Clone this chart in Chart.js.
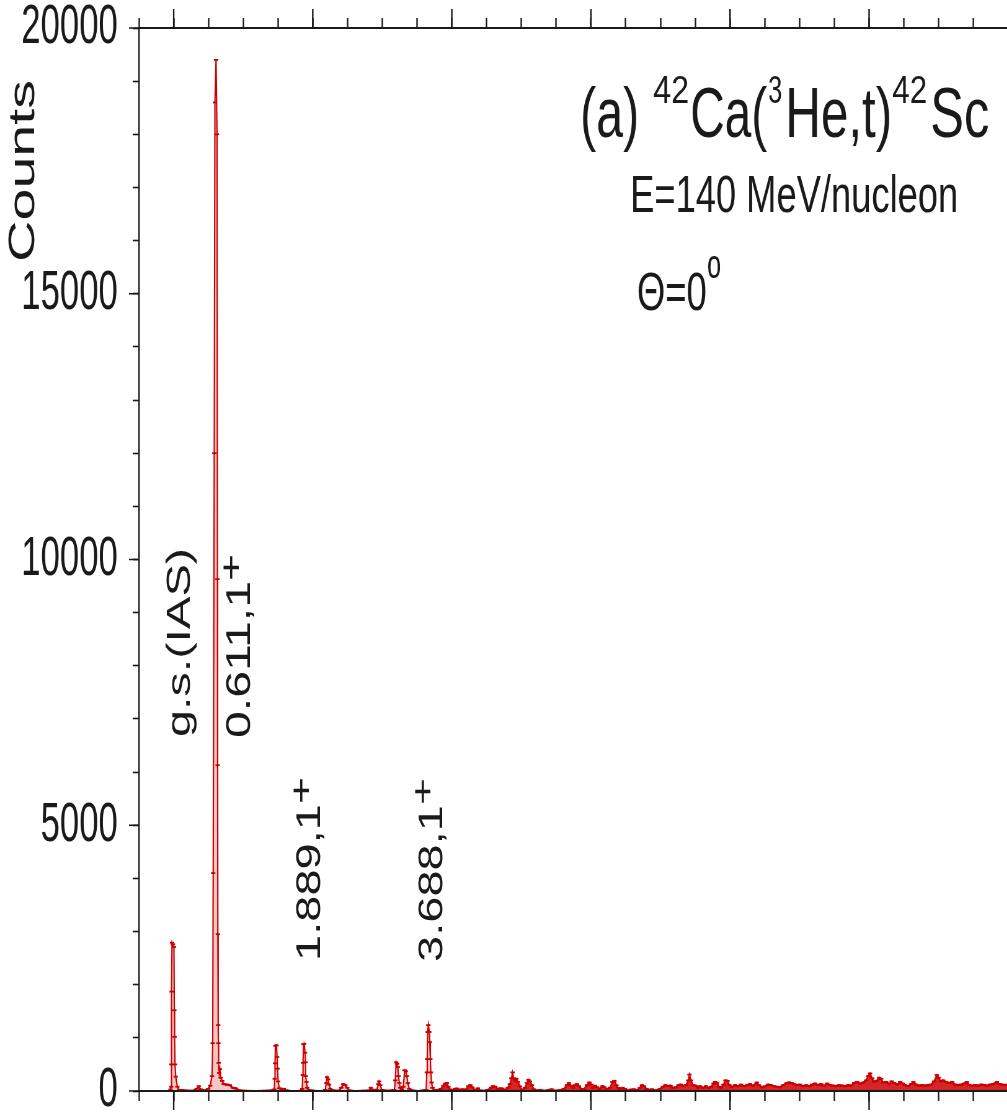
<!DOCTYPE html>
<html>
<head>
<meta charset="utf-8">
<title>42Ca(3He,t)42Sc spectrum</title>
<script src="https://cdn.jsdelivr.net/npm/chart.js"></script>
<style>
    html, body { margin: 0; padding: 0; background: #fff; overflow: hidden; }
</style>
</head>
<body>
<canvas id="chart" width="1640" height="1119"></canvas>
<script>
    // The canvas is drawn wide and shown narrowed, so the whole figure
    // (lines and lettering alike) comes out horizontally condensed.
    var SQUEEZE = 0.62;
    var CANVAS_W = 1640, CANVAS_H = 1119;
    var RED = '#cc0000';
    var INK = '#1a1a1a';
    var FONT = "'Liberation Sans', Arial, Helvetica, sans-serif";

    // axes
    var energyMin = -0.5, energyMax = 12.02, energyMinorStep = 0.5;
    var energyMajorTicks = [0, 2, 4, 6, 8, 10, 12];
    var countsMax = 20000, countsMinorStep = 1000;
    var countsMajorTicks = [0, 5000, 10000, 15000, 20000];

    // excitation energy (MeV) and counts: discrete states up to ~3.7 MeV
    var peakRegionMeV = [
        -0.065, -0.046, -0.036, -0.033, -0.030, -0.024, -0.010, 0.004, 0.009, 0.014, 0.019, 0.029, 0.053, 0.079,
        0.158, 0.273, 0.331, 0.360, 0.388, 0.446, 0.496, 0.525, 0.551,
        0.561, 0.568, 0.583, 0.593, 0.609, 0.623, 0.629, 0.632, 0.635, 0.640, 0.643, 0.647, 0.655, 0.665, 0.676, 0.698, 0.719, 0.763, 0.806, 0.849, 0.892, 0.950,
        1.022, 1.165, 1.309, 1.410,
        1.446, 1.453, 1.457, 1.463, 1.478, 1.487, 1.493, 1.502, 1.518, 1.554, 1.583, 1.612, 1.698, 1.813,
        1.849, 1.856, 1.860, 1.866, 1.878, 1.889, 1.895, 1.899, 1.909, 1.921, 1.942,
        2.029, 2.129, 2.180, 2.194, 2.206, 2.220, 2.235, 2.252, 2.288,
        2.374, 2.410, 2.439, 2.468, 2.496, 2.518, 2.604, 2.719,
        2.813, 2.835, 2.856, 2.921, 2.942, 2.954, 2.971, 2.993, 3.079,
        3.173, 3.187, 3.199, 3.213, 3.223, 3.233, 3.245, 3.259, 3.281, 3.302, 3.321, 3.338, 3.353, 3.367, 3.388, 3.424, 3.511, 3.597,
        3.630, 3.640, 3.646, 3.652, 3.662, 3.676, 3.683, 3.691, 3.698, 3.709, 3.722, 3.748
    ];
    var peakRegionCounts = [
        0, 30, 80, 500, 1870, 2790, 2760, 2710, 1520, 1020, 500, 270, 80, 20,
        10, 5, 40, 90, 30, 10, 40, 100, 280,
        900, 4100, 12000, 18600, 19400, 18000, 9630, 6130, 2950, 1240, 900, 530, 340, 410, 250, 190, 130, 120, 110, 60, 50, 10,
        5, 0, 5, 10,
        30, 230, 520, 850, 860, 640, 420, 180, 50, 40, 40, 10, 0, 5,
        40, 300, 530, 880, 890, 720, 540, 280, 170, 60, 20,
        5, 0, 20, 150, 260, 220, 120, 40, 10,
        5, 60, 130, 110, 60, 10, 0, 5,
        10, 60, 20, 20, 130, 180, 110, 20, 5,
        20, 200, 540, 510, 450, 280, 150, 60, 30, 80, 390, 370, 280, 150, 40, 10, 0, 10,
        20, 350, 600, 1110, 1240, 1110, 920, 600, 350, 160, 60, 10
    ];

    // continuum above ~3.7 MeV
    var continuumMeV = [
        3.748, 3.799, 3.842, 3.878, 3.906, 3.928, 3.950, 3.971, 4.000, 4.043, 4.072, 4.115,
        4.144, 4.201, 4.237, 4.266, 4.295, 4.331, 4.374, 4.403, 4.460, 4.518, 4.561, 4.590,
        4.626, 4.662, 4.691, 4.727, 4.763, 4.806, 4.835, 4.856, 4.873, 4.889, 4.906, 4.928,
        4.950, 4.978, 5.007, 5.050, 5.079, 5.101, 5.122, 5.151, 5.180, 5.223, 5.266, 5.338,
        5.396, 5.439, 5.482, 5.554, 5.612, 5.655, 5.683, 5.712, 5.741, 5.770, 5.799, 5.827,
        5.863, 5.899, 5.942, 5.978, 6.007, 6.029, 6.058, 6.086, 6.129, 6.165, 6.194, 6.230,
        6.273, 6.309, 6.338, 6.367, 6.388, 6.417, 6.453, 6.489, 6.532, 6.576, 6.619, 6.662,
        6.705, 6.734, 6.763, 6.799, 6.835, 6.878, 6.935, 6.993, 7.036, 7.072, 7.108, 7.144,
        7.180, 7.223, 7.259, 7.295, 7.331, 7.367, 7.400, 7.417, 7.439, 7.468, 7.504, 7.540,
        7.568, 7.612, 7.655, 7.691, 7.727, 7.763, 7.784, 7.813, 7.842, 7.871, 7.906, 7.935,
        7.964, 7.993, 8.029, 8.072, 8.115, 8.158, 8.201, 8.245, 8.288, 8.331, 8.384, 8.417,
        8.460, 8.504, 8.547, 8.590, 8.633, 8.676, 8.719, 8.763, 8.816, 8.849, 8.885, 8.921,
        8.964, 9.007, 9.050, 9.094, 9.137, 9.180, 9.223, 9.266, 9.309, 9.353, 9.396, 9.439,
        9.482, 9.525, 9.568, 9.612, 9.655, 9.698, 9.741, 9.784, 9.827, 9.871, 9.918, 9.957,
        9.986, 10.014, 10.043, 10.072, 10.108, 10.144, 10.173, 10.201, 10.245, 10.288, 10.324, 10.360,
        10.403, 10.446, 10.482, 10.518, 10.561, 10.604, 10.637, 10.676, 10.719, 10.763, 10.806, 10.849,
        10.892, 10.935, 10.974, 11.000, 11.029, 11.065, 11.108, 11.151, 11.194, 11.237, 11.281, 11.324,
        11.367, 11.406, 11.439, 11.482, 11.525, 11.568, 11.612, 11.655, 11.698, 11.741, 11.784, 11.837,
        11.871, 11.914, 11.957, 12.000, 12.058
    ];
    var continuumCounts = [
        10, 20, 40, 100, 140, 150, 80, 30, 10, 40, 45, 20,
        30, 25, 90, 110, 70, 20, 50, 10, 5, 20, 60, 90,
        80, 30, 50, 45, 15, 60, 130, 240, 350, 240, 200, 230,
        170, 90, 20, 60, 150, 210, 180, 110, 30, 10, 20, 5,
        20, 30, 5, 15, 40, 110, 150, 100, 60, 110, 130, 90,
        40, 30, 110, 160, 120, 60, 100, 70, 40, 90, 70, 30,
        60, 170, 190, 110, 60, 40, 60, 40, 10, 25, 30, 15,
        60, 110, 90, 40, 20, 30, 10, 40, 80, 110, 90, 100,
        60, 70, 110, 120, 90, 110, 200, 310, 200, 110, 100, 60,
        90, 60, 90, 60, 80, 140, 170, 150, 80, 60, 120, 200,
        190, 110, 70, 110, 90, 120, 90, 110, 130, 100, 160, 110,
        70, 90, 120, 110, 90, 80, 70, 110, 150, 160, 150, 130,
        110, 120, 90, 110, 90, 120, 140, 110, 130, 100, 140, 110,
        100, 90, 110, 100, 90, 110, 100, 150, 170, 140, 160, 200,
        280, 330, 240, 170, 190, 250, 230, 160, 170, 130, 180, 150,
        120, 170, 140, 110, 90, 130, 170, 120, 100, 110, 100, 110,
        120, 180, 300, 250, 180, 200, 170, 150, 170, 120, 110, 120,
        140, 170, 110, 100, 110, 100, 120, 110, 100, 120, 130, 170,
        130, 120, 110, 120, 110
    ];

    function toPoints(xs, ys) {
        return xs.map(function (e, i) { return { x: e, y: ys[i] }; });
    }

    // text helpers, positions given in page pixels
    function fitText(ctx, str, x0, x1, baseline, size) {
        ctx.font = size + 'px ' + FONT;
        var w = ctx.measureText(str).width;
        ctx.save();
        ctx.translate(x0 / SQUEEZE, baseline);
        ctx.scale((x1 - x0) / SQUEEZE / w, 1);
        ctx.fillText(str, 0, 0);
        ctx.restore();
    }
    // rotated text reading upwards from y0 to y1
    function fitTextUp(ctx, str, baseX, y0, y1, size) {
        ctx.font = size + 'px ' + FONT;
        var w = ctx.measureText(str).width;
        ctx.save();
        ctx.translate(baseX / SQUEEZE, y0);
        ctx.rotate(-Math.PI / 2);
        ctx.scale((y0 - y1) / w, 1);
        ctx.fillText(str, 0, 0);
        ctx.restore();
    }

    var annotations = {
        id: 'annotations',
        afterDraw: function (chart) {
            var ctx = chart.ctx;
            var area = chart.chartArea;
            var x = chart.scales.x, y = chart.scales.y;
            ctx.save();

            // long ticks every 2 MeV, bottom and top
            ctx.strokeStyle = INK;
            ctx.lineWidth = 2.4;
            ctx.beginPath();
            energyMajorTicks.forEach(function (e) {
                var px = x.getPixelForValue(e);
                ctx.moveTo(px, area.bottom);
                ctx.lineTo(px, area.bottom + 19);
                ctx.moveTo(px, area.top);
                ctx.lineTo(px, area.top - 19);
            });
            ctx.stroke();

            // long ticks at labelled counts
            ctx.lineWidth = 1.6;
            ctx.beginPath();
            countsMajorTicks.forEach(function (c) {
                var py = y.getPixelForValue(c);
                ctx.moveTo(area.left, py);
                ctx.lineTo(area.left - 16, py);
            });
            ctx.stroke();

            ctx.fillStyle = INK;
            ctx.textBaseline = 'alphabetic';
            ctx.textAlign = 'left';

            // reaction
            fitText(ctx, '(a)', 580, 639, 137, 70);
            fitText(ctx, '42', 653, 689, 103, 38);
            fitText(ctx, 'Ca(', 690, 767, 137, 70);
            fitText(ctx, '3', 768, 782, 103, 38);
            fitText(ctx, 'He,t)', 785, 892, 137, 70);
            fitText(ctx, '42', 892, 927, 103, 38);
            fitText(ctx, 'Sc', 930, 989, 137, 70);

            fitText(ctx, 'E=140 MeV/nucleon', 630, 958, 211.7, 52);
            fitText(ctx, '\u0398=0', 636.7, 706.7, 310, 54);
            fitText(ctx, 'o', 707, 721, 278, 40);

            // state labels
            fitTextUp(ctx, 'g.s.(IAS)', 190, 737, 548, 54);
            fitTextUp(ctx, '0.611,1', 250, 738, 581, 56);
            fitTextUp(ctx, '+', 241, 581, 554, 50);
            fitTextUp(ctx, '1.889,1', 320, 961, 804, 56);
            fitTextUp(ctx, '+', 311, 804, 777, 50);
            fitTextUp(ctx, '3.688,1', 442, 962, 805, 56);
            fitTextUp(ctx, '+', 433, 805, 778, 50);

            // axis title
            fitTextUp(ctx, 'Counts', 34, 262, 80, 60);

            ctx.restore();
        }
    };

    function energyAxis(position) {
        return {
            type: 'linear',
            position: position,
            min: energyMin,
            max: energyMax,
            ticks: { stepSize: energyMinorStep, display: false },
            grid: { drawOnChartArea: false, drawTicks: true, tickLength: 10, tickColor: INK, tickWidth: 2.4 },
            border: { display: true, color: INK, width: 2 },
            afterFit: function (s) { s.height = 28; s.paddingLeft = 0; s.paddingRight = 0; }
        };
    }

    var trace = {
        borderColor: RED,
        borderWidth: 2.2,
        tension: 0,
        pointStyle: 'line',
        pointRadius: 3.5,
        pointHoverRadius: 3.5,
        pointBorderColor: RED,
        pointBorderWidth: 1.8,
        fill: 'origin',
        clip: { left: 0, top: 4, right: 0, bottom: -1 }
    };

    var canvas = document.getElementById('chart');
    canvas.style.width = (CANVAS_W * SQUEEZE) + 'px';
    canvas.style.height = CANVAS_H + 'px';

    var chart = new Chart(canvas.getContext('2d'), {
        type: 'line',
        data: {
            datasets: [
                Object.assign({}, trace, {
                    data: toPoints(peakRegionMeV, peakRegionCounts),
                    backgroundColor: 'rgba(204, 0, 0, 0.22)'
                }),
                Object.assign({}, trace, {
                    data: toPoints(continuumMeV, continuumCounts),
                    backgroundColor: 'rgba(204, 0, 0, 0.85)'
                })
            ]
        },
        options: {
            responsive: false,
            animation: false,
            events: [],
            layout: { padding: { left: 0, right: 12, top: 0, bottom: 0 }, autoPadding: false },
            plugins: { legend: { display: false }, tooltip: { enabled: false } },
            scales: {
                x: energyAxis('bottom'),
                xTop: energyAxis('top'),
                y: {
                    min: 0,
                    max: countsMax,
                    ticks: {
                        stepSize: countsMinorStep,
                        autoSkip: false,
                        padding: 24,
                        color: INK,
                        font: { family: FONT, size: 56 },
                        callback: function (v) { return countsMajorTicks.indexOf(v) >= 0 ? String(v) : ''; }
                    },
                    grid: { drawOnChartArea: false, tickLength: 10, tickColor: INK, tickWidth: 1.6 },
                    border: { color: INK, width: 2.4 },
                    afterFit: function (s) { s.width = 224; s.paddingTop = 0; s.paddingBottom = 0; }
                }
            }
        },
        plugins: [annotations]
    });
</script>
</body>
</html>
